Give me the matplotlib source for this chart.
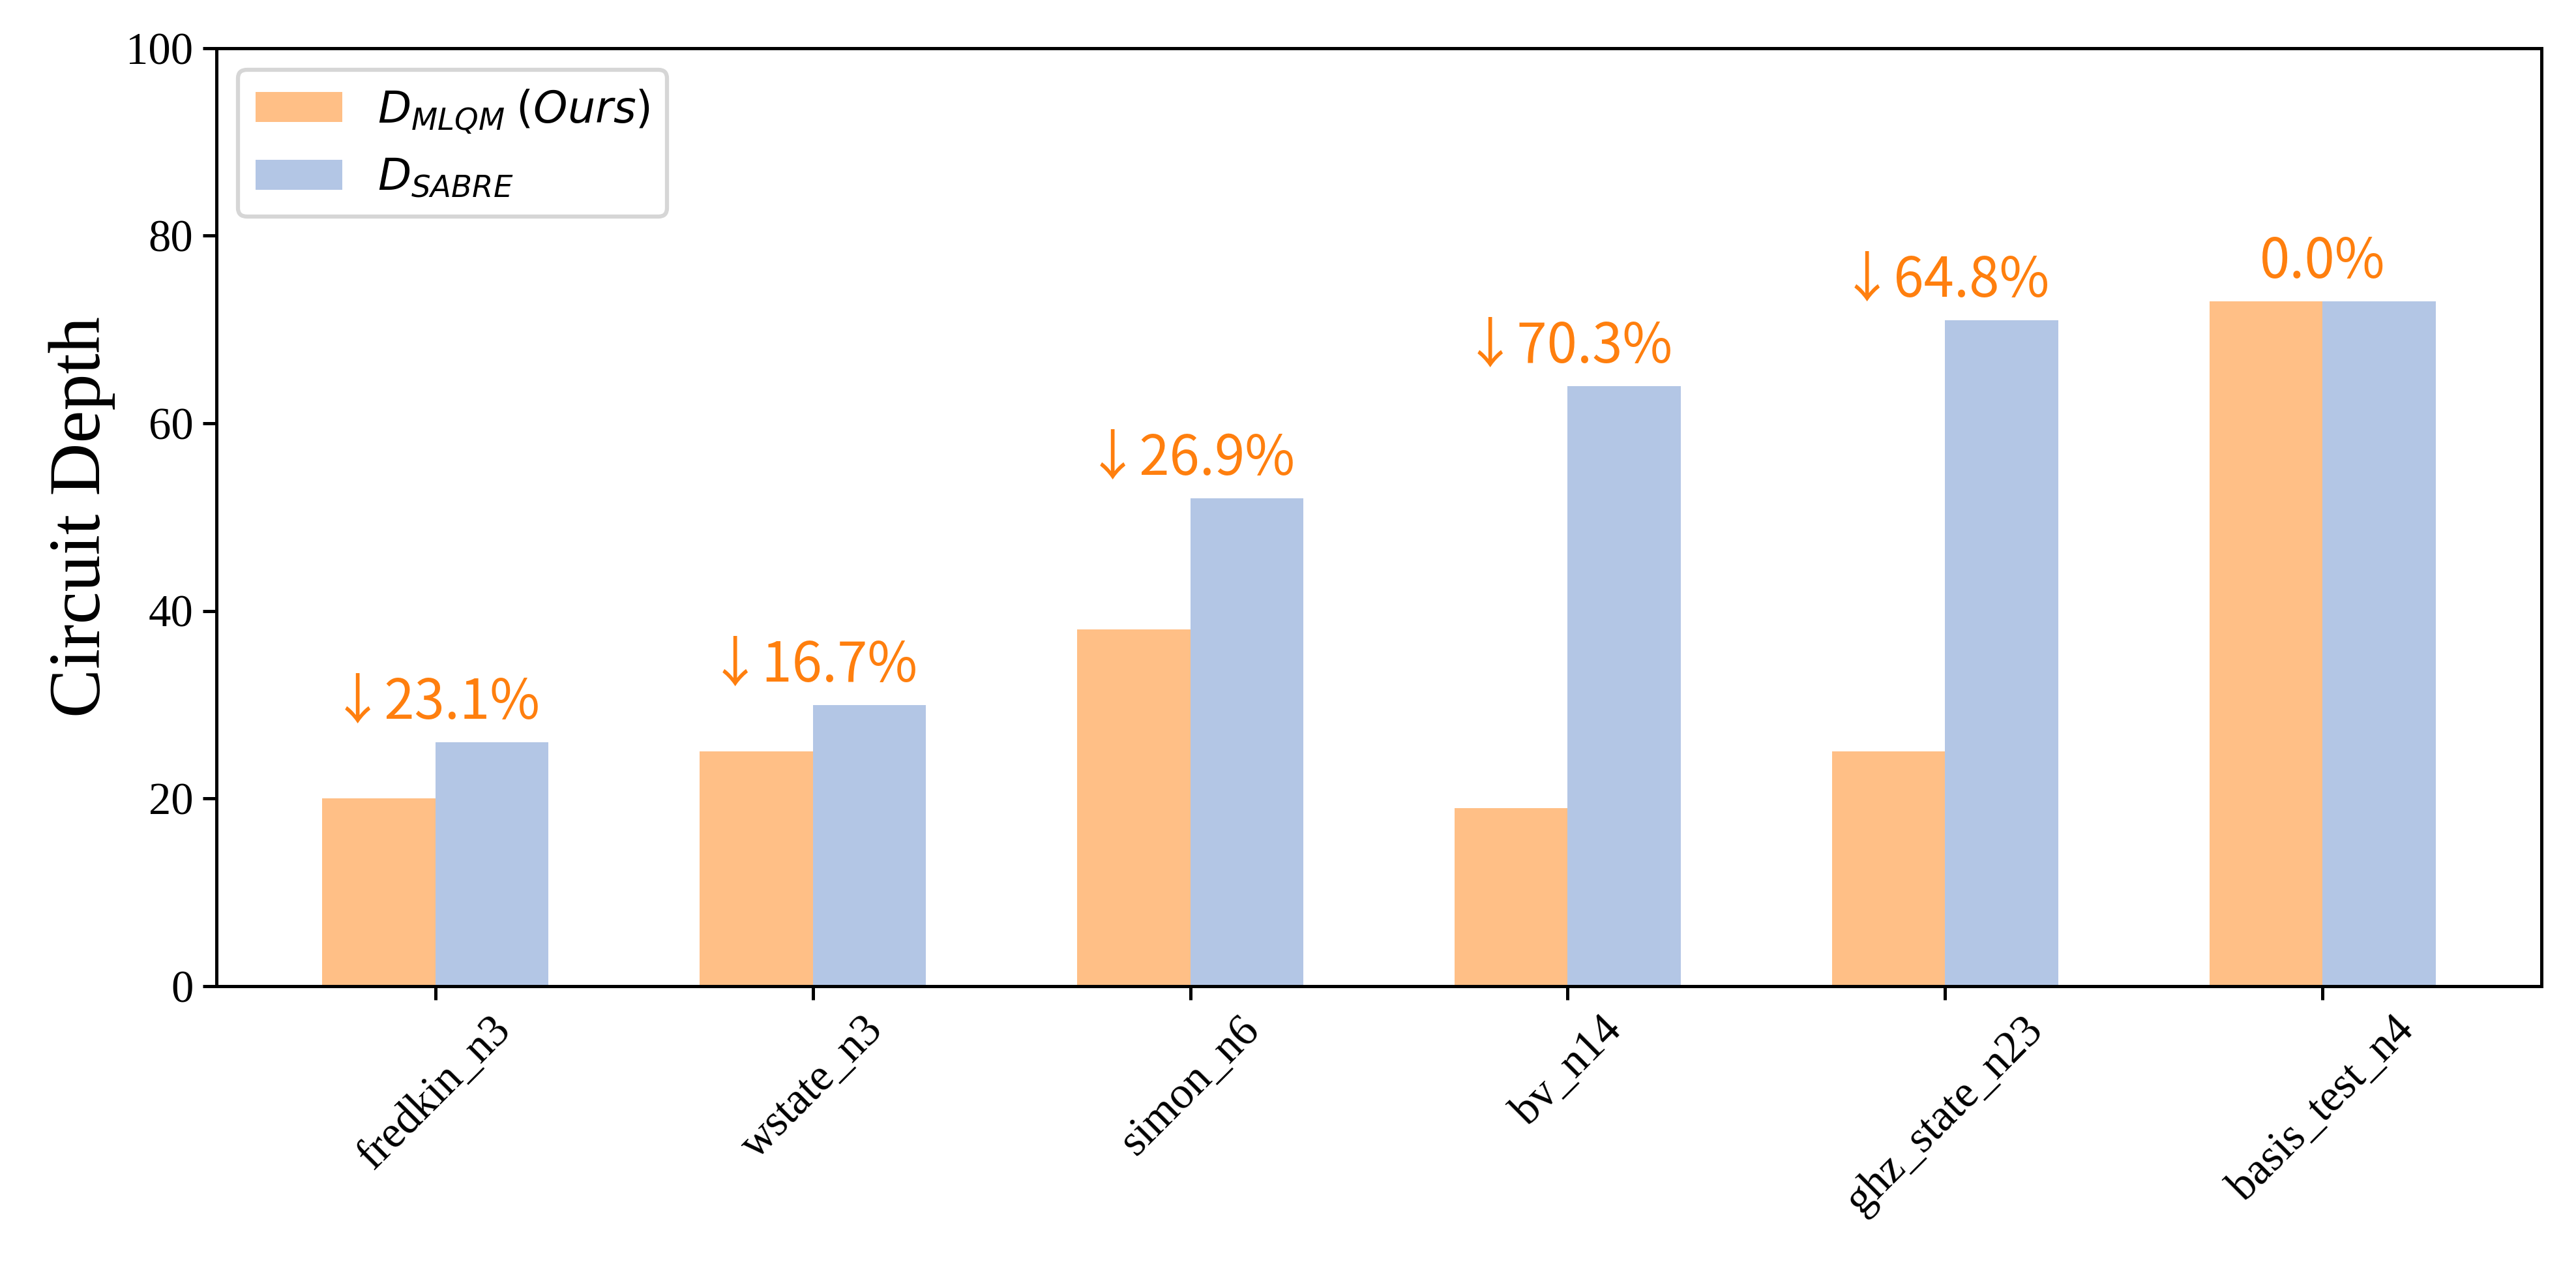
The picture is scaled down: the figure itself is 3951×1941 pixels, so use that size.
import matplotlib
matplotlib.use('Agg')
import matplotlib.pyplot as plt
import numpy as np

# circuit depth per benchmark
circuits = ['fredkin_n3', 'wstate_n3', 'simon_n6', 'bv_n14', 'ghz_state_n23', 'basis_test_n4']
depth_mlqm = [20, 25, 38, 19, 25, 73]
depth_sabre = [26, 30, 52, 64, 71, 73]
y_ticks = [0, 20, 40, 60, 80, 100]

plt.rcParams['font.family'] = 'serif'
plt.rcParams['font.serif'] = ['Liberation Serif', 'DejaVu Serif']

fig, ax = plt.subplots(figsize=(13.17, 6.47), dpi=300)
fig.subplots_adjust(left=0.084, right=0.9866, top=0.962, bottom=0.221)

x = np.arange(len(circuits))
width = 0.3
ax.bar(x - width / 2, depth_mlqm, width, color='#ffbf86', label=r'$D_{MLQM}$ $\mathit{(Ours)}$')
ax.bar(x + width / 2, depth_sabre, width, color='#b3c6e5', label=r'$D_{SABRE}$')

# reduction labels above each group
for i in range(len(circuits)):
    red = (depth_sabre[i] - depth_mlqm[i]) / depth_sabre[i] * 100
    txt = f'{red:.1f}%'
    if red > 0:
        txt = '\u2193' + txt
    top = max(depth_mlqm[i], depth_sabre[i])
    ax.text(x[i], top + 2.5, txt, ha='center', va='baseline', color='#ff7f0e',
            fontsize=20, family=['Noto Sans CJK SC', 'DejaVu Sans'])

ax.set_ylim(0, 100)
ax.set_yticks(y_ticks)
ax.set_xticks(x)
ax.set_xticklabels(circuits, rotation=45, fontsize=16.5)
ax.tick_params(axis='y', labelsize=16.5)
ax.tick_params(length=5, width=1.2)
for s in ax.spines.values():
    s.set_linewidth(1.2)
ax.set_ylabel('Circuit Depth', fontsize=27)

leg = ax.legend(loc='upper left', fontsize=16)
leg.get_frame().set_linewidth(1.5)

fig.savefig('out.png', dpi=300)
